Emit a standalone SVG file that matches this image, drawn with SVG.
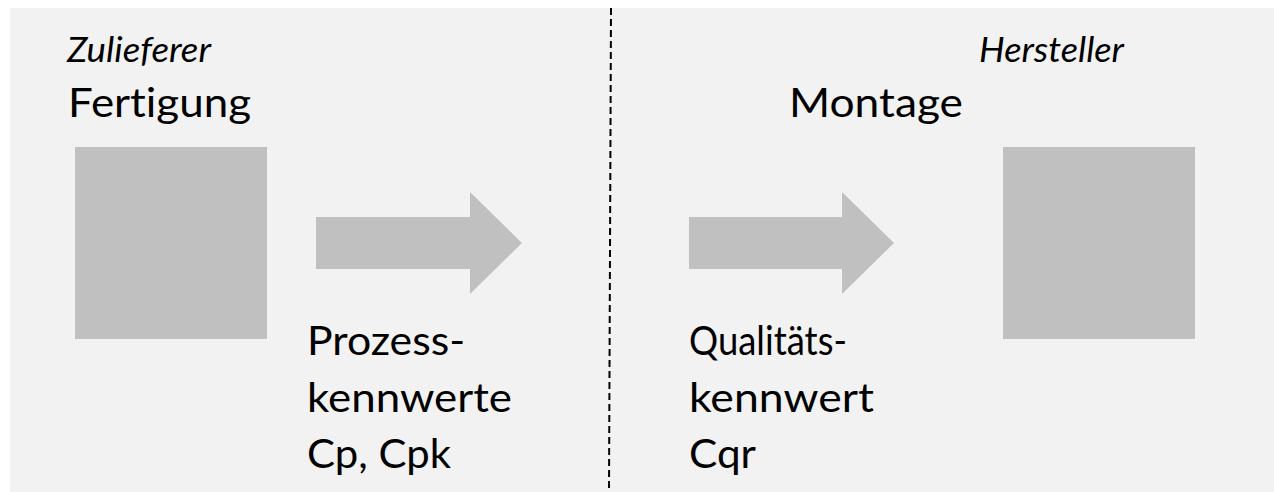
<svg xmlns="http://www.w3.org/2000/svg" width="1274" height="492" viewBox="0 0 1274 492">
<style>
.bg{fill:#f2f2f2}
.box{fill:#c0c0c0}
.arrow{fill:#c0c0c0}
.divider{stroke:#000;stroke-width:2;stroke-dasharray:7 4;fill:none}
text{font-family:Lato,"Open Sans","Liberation Sans",sans-serif;fill:#000;font-variant-ligatures:none}
.main{font-size:41px}
.role{font-size:34px;font-style:italic}
</style>
<rect width="1274" height="492" fill="#fff"/>
<rect class="bg" x="10" y="8" width="1264" height="484"/>
<line class="divider" x1="611" y1="8" x2="609" y2="492"/>
<g id="zulieferer">
<text class="role" x="67" y="62" textLength="144" lengthAdjust="spacingAndGlyphs">Zulieferer</text>
<text class="main" x="68" y="117" textLength="183" lengthAdjust="spacingAndGlyphs">Fertigung</text>
<rect class="box" x="75" y="147" width="192" height="192"/>
</g>
<g id="hersteller">
<text class="role" x="979" y="62" textLength="145" lengthAdjust="spacingAndGlyphs">Hersteller</text>
<text class="main" x="789" y="117" textLength="174" lengthAdjust="spacingAndGlyphs">Montage</text>
<rect class="box" x="1003" y="147" width="192" height="192"/>
</g>
<g id="connectors">
<polygon class="arrow" points="316,217 470,217 470,192 522,243 470,294 470,269 316,269"/>
<polygon class="arrow" points="689,217 842,217 842,192 894,243 842,294 842,269 689,269"/>
</g>
<g id="prozesskennwerte">
<text class="main" x="307" y="355" textLength="158" lengthAdjust="spacingAndGlyphs">Prozess-</text>
<text class="main" x="307" y="412" textLength="205" lengthAdjust="spacingAndGlyphs">kennwerte</text>
<text class="main" x="307" y="468" textLength="144" lengthAdjust="spacingAndGlyphs">Cp, Cpk</text>
</g>
<g id="qualitaetskennwert">
<text class="main" x="689" y="355" textLength="158" lengthAdjust="spacingAndGlyphs">Qualitäts-</text>
<text class="main" x="689" y="412" textLength="185" lengthAdjust="spacingAndGlyphs">kennwert</text>
<text class="main" x="689" y="468" textLength="67" lengthAdjust="spacingAndGlyphs">Cqr</text>
</g>
</svg>
